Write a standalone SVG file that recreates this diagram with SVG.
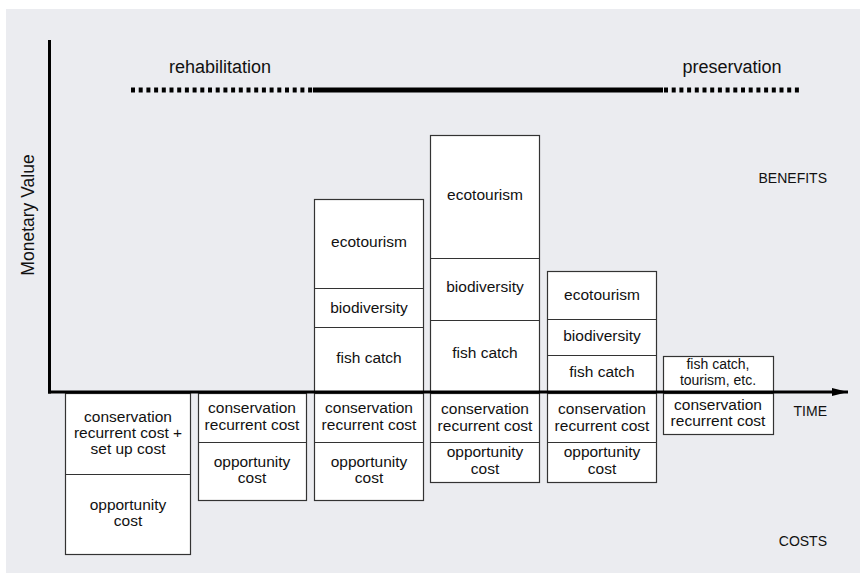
<svg xmlns="http://www.w3.org/2000/svg" width="860" height="575" viewBox="0 0 860 575">
  <defs>
    <marker id="arrow" viewBox="0 0 16 8" refX="16" refY="4" markerWidth="16" markerHeight="8" markerUnits="userSpaceOnUse" orient="auto">
      <path d="M0,0 L16,4 L0,8 Z" fill="#000"/>
    </marker>
    <style>
      .bg { fill: #ebecf0; }
      .box { fill: #fff; stroke: #333; stroke-width: 1.2; }
      .div { stroke: #333; stroke-width: 1.2; fill: none; }
      .lbl { font-family: "Liberation Sans", Arial, sans-serif; font-size: 15.5px; fill: #111; text-anchor: middle; }
      .sm { font-size: 14px; }
      .hdr { font-family: "Liberation Sans", Arial, sans-serif; font-size: 18px; fill: #111; text-anchor: middle; }
      .cap { font-family: "Liberation Sans", Arial, sans-serif; font-size: 14px; fill: #111; text-anchor: end; }
      .axis { stroke: #000; stroke-width: 3; fill: none; }
      .phase { stroke: #000; stroke-width: 5; fill: none; }
      .dots { stroke-dasharray: 4 3.7; }
    </style>
  </defs>

  <rect class="bg" x="6" y="9" width="854" height="564"/>

  <!-- phase bar: rehabilitation / preservation -->
  <g id="phases">
    <text class="hdr" x="220" y="73">rehabilitation</text>
    <text class="hdr" x="732" y="73">preservation</text>
    <line class="phase dots" x1="131" y1="90" x2="313" y2="90"/>
    <line class="phase" x1="313" y1="90" x2="663" y2="90"/>
    <line class="phase dots" x1="664" y1="90" x2="800" y2="90"/>
  </g>

  <!-- benefit stacks above the time axis -->
  <g id="benefit-3">
    <rect class="box" x="314.5" y="199.5" width="109" height="193"/>
    <line class="div" x1="314.5" y1="288.5" x2="423.5" y2="288.5"/>
    <line class="div" x1="314.5" y1="327.5" x2="423.5" y2="327.5"/>
    <text class="lbl" x="369" y="247">ecotourism</text>
    <text class="lbl" x="369" y="313">biodiversity</text>
    <text class="lbl" x="369" y="363">fish catch</text>
  </g>
  <g id="benefit-4">
    <rect class="box" x="430.5" y="135.5" width="109" height="257"/>
    <line class="div" x1="430.5" y1="258.5" x2="539.5" y2="258.5"/>
    <line class="div" x1="430.5" y1="320.5" x2="539.5" y2="320.5"/>
    <text class="lbl" x="485" y="200">ecotourism</text>
    <text class="lbl" x="485" y="292">biodiversity</text>
    <text class="lbl" x="485" y="358">fish catch</text>
  </g>
  <g id="benefit-5">
    <rect class="box" x="547.5" y="271.5" width="109" height="121"/>
    <line class="div" x1="547.5" y1="319.5" x2="656.5" y2="319.5"/>
    <line class="div" x1="547.5" y1="355.5" x2="656.5" y2="355.5"/>
    <text class="lbl" x="602" y="300">ecotourism</text>
    <text class="lbl" x="602" y="341">biodiversity</text>
    <text class="lbl" x="602" y="377">fish catch</text>
  </g>
  <g id="benefit-6">
    <rect class="box" x="663.5" y="356.5" width="110" height="36"/>
    <text class="lbl sm" x="718" y="369">fish catch,</text>
    <text class="lbl sm" x="718" y="385">tourism, etc.</text>
  </g>

  <!-- cost stacks below the time axis -->
  <g id="cost-1">
    <rect class="box" x="65.5" y="393.5" width="125" height="161"/>
    <line class="div" x1="65.5" y1="474.5" x2="190.5" y2="474.5"/>
    <text class="lbl" x="128" y="422">conservation</text>
    <text class="lbl" x="128" y="438">recurrent cost +</text>
    <text class="lbl" x="128" y="454">set up cost</text>
    <text class="lbl" x="128" y="510">opportunity</text>
    <text class="lbl" x="128" y="526">cost</text>
  </g>
  <g id="cost-2">
    <rect class="box" x="198.5" y="393.5" width="108" height="107"/>
    <line class="div" x1="198.5" y1="442.5" x2="306.5" y2="442.5"/>
    <text class="lbl" x="252" y="413">conservation</text>
    <text class="lbl" x="252" y="430">recurrent cost</text>
    <text class="lbl" x="252" y="467">opportunity</text>
    <text class="lbl" x="252" y="483">cost</text>
  </g>
  <g id="cost-3">
    <rect class="box" x="314.5" y="393.5" width="109" height="107"/>
    <line class="div" x1="314.5" y1="442.5" x2="423.5" y2="442.5"/>
    <text class="lbl" x="369" y="413">conservation</text>
    <text class="lbl" x="369" y="430">recurrent cost</text>
    <text class="lbl" x="369" y="467">opportunity</text>
    <text class="lbl" x="369" y="483">cost</text>
  </g>
  <g id="cost-4">
    <rect class="box" x="430.5" y="393.5" width="109" height="89"/>
    <line class="div" x1="430.5" y1="442.5" x2="539.5" y2="442.5"/>
    <text class="lbl" x="485" y="414">conservation</text>
    <text class="lbl" x="485" y="431">recurrent cost</text>
    <text class="lbl" x="485" y="457">opportunity</text>
    <text class="lbl" x="485" y="474">cost</text>
  </g>
  <g id="cost-5">
    <rect class="box" x="547.5" y="393.5" width="109" height="89"/>
    <line class="div" x1="547.5" y1="442.5" x2="656.5" y2="442.5"/>
    <text class="lbl" x="602" y="414">conservation</text>
    <text class="lbl" x="602" y="431">recurrent cost</text>
    <text class="lbl" x="602" y="457">opportunity</text>
    <text class="lbl" x="602" y="474">cost</text>
  </g>
  <g id="cost-6">
    <rect class="box" x="663.5" y="393.5" width="110" height="41"/>
    <text class="lbl" x="718" y="410">conservation</text>
    <text class="lbl" x="718" y="426">recurrent cost</text>
  </g>

  <!-- axes -->
  <g id="axes">
    <line class="axis" x1="49.5" y1="40" x2="49.5" y2="393.5"/>
    <line class="axis" x1="48" y1="392" x2="848" y2="392" marker-end="url(#arrow)"/>
    <text font-family="'Liberation Sans', Arial, sans-serif" font-size="17.5" fill="#111" text-anchor="middle" transform="translate(34,215) rotate(-90)">Monetary Value</text>
    <text class="cap" x="827" y="183">BENEFITS</text>
    <text class="cap" x="827" y="416">TIME</text>
    <text class="cap" x="827" y="546">COSTS</text>
  </g>
</svg>
